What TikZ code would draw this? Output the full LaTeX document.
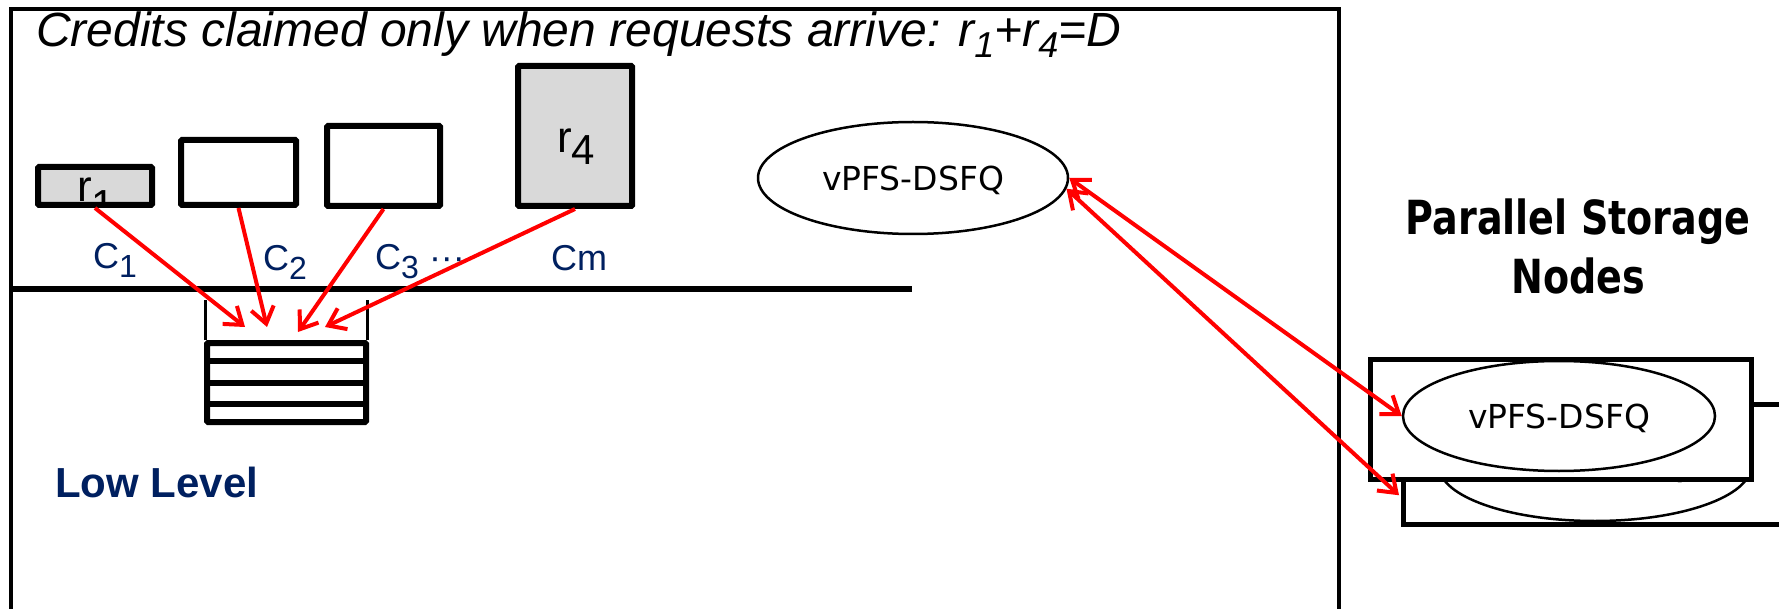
\documentclass[tikz,border=0pt]{standalone}
\usepackage{fontspec}
\setmainfont{Liberation Sans}
\newfontfamily\dvs{DejaVu Sans}
\newfontfamily\dvsb[FakeStretch=0.81]{DejaVu Sans}
\usetikzlibrary{arrows.meta,shapes.geometric,calc}
\definecolor{navy}{RGB}{0,32,96}
\definecolor{boxgray}{RGB}{217,217,217}
\newcommand\fsz[1]{\fontsize{#1}{#1}\selectfont}
\begin{document}
\begin{tikzpicture}[x=1pt,y=-1pt,
  reqbox/.style={draw=black, line width=6pt, rectangle, inner sep=0pt, rounded corners=1pt},
  txt/.style={inner sep=0pt, anchor=base west},
  clabel/.style={txt, text=navy, font=\fsz{36}},
  ell/.style={ellipse, draw=black, line width=2.5pt, fill=white, inner sep=0pt,
    minimum width=310pt, minimum height=112pt, font=\dvs\fsz{33}, text depth=0pt},
  sbox/.style={rectangle, draw=black, line width=5pt, fill=white, inner sep=0pt,
    minimum width=381pt, minimum height=120pt},
  redarr/.style={draw=red, line width=4pt, -{Straight Barb[length=16pt,width=23pt]}},
  redarr2/.style={draw=red, line width=4pt,
    {Straight Barb[length=16pt,width=23pt]}-{Straight Barb[length=16pt,width=23pt]}}
]
\clip (0,0) rectangle (1779,609);
\fill[white] (0,0) rectangle (1779,609);

% outer frame
\draw[line width=4pt] (11,640) -- (11,9) -- (1339,9) -- (1339,640);

% title
\node[txt, font=\itshape\fsz{48}] (title) at (36,47)
  {Credits claimed only when requests arrive: r\raisebox{-11pt}{\fsz{36}1}+r\raisebox{-11pt}{\fsz{36}4}=D};

% request boxes
\node[reqbox, fill=boxgray, minimum width=114pt, minimum height=38pt] (b1) at (95,186) {};
\node[reqbox, fill=white, minimum width=115pt, minimum height=65pt] (b2) at (238.5,172.5) {};
\node[reqbox, fill=white, minimum width=113pt, minimum height=80pt] (b3) at (383.5,166) {};
\node[reqbox, fill=boxgray, minimum width=114pt, minimum height=140pt] (b4) at (575,136) {};

\begin{scope}
  \clip ($(b1.south west)+(3,-3)$) rectangle ($(b1.north east)+(-3,3)$);
  \node[txt, font=\fsz{44}] (r1) at (77,202) {r\raisebox{-18pt}{\fsz{42}1}};
\end{scope}
\node[txt, font=\fsz{44}] (r4) at (557,153) {r\raisebox{-12pt}{\fsz{42}4}};

% client labels
\node[clabel] (c1) at (93,269) {C\raisebox{-9pt}{\fsz{32}1}};
\node[clabel] (c2) at (263,271) {C\raisebox{-9pt}{\fsz{32}2}};
\node[clabel] (c3) at (375,270) {C\raisebox{-9pt}{\fsz{32}3}\ ···};
\node[clabel] (cm) at (551,271) {Cm};

% divider
\coordinate (dl) at (13,289);
\coordinate (dr) at (912,289);
\draw[line width=6pt] (dl) -- (dr);

% queue
\node[rectangle, draw=black, line width=6pt, inner sep=0pt, rounded corners=1pt,
  minimum width=159pt, minimum height=79pt] (queue) at (286.5,382.5) {};
\foreach \f in {0.25,0.5,0.75}{
  \draw[line width=6pt] ($(queue.north west)!\f!(queue.south west)$) -- ($(queue.north east)!\f!(queue.south east)$);
}
\draw[line width=3pt] ([xshift=1.5pt]queue.north west) -- ++(0,-40);
\draw[line width=3pt] ([xshift=-2pt]queue.north east) -- ++(0,-40);

\coordinate (q1) at (245,327);
\coordinate (q2) at (267,327);
\coordinate (q3) at (298,332);
\coordinate (q4) at (325,327);
\draw[redarr] (b1.south) -- (q1);
\draw[redarr] (b2.south) -- (q2);
\draw[redarr] (b3.south) -- (q3);
\draw[redarr] (b4.south) -- (q4);

% low level
\node[txt, text=navy, font=\bfseries\fsz{42}] (low) at (55,497) {Low Level};

% top scheduler
\node[ell] (e0) at (913,178) {vPFS-DSFQ};

% storage nodes
\node[txt, anchor=base, font=\dvsb\bfseries\fsz{47}] (ps1) at (1578,235) {Parallel Storage};
\node[txt, anchor=base, font=\dvsb\bfseries\fsz{47}] (ps2) at (1578,294) {Nodes};

\node[sbox] (bk) at (1594,464) {};
\node[ell, minimum width=312pt, minimum height=110pt] (ebk) at (1595,466) {vPFS-DSFQ};
\node[sbox] (fr) at (1560.5,419) {};
\node[ell, minimum width=312pt, minimum height=110pt] (efr) at (1559,416) {vPFS-DSFQ};

\coordinate (bkw) at ($(bk.south west)!0.25!(bk.north west)$);
\draw[redarr2] (e0.east) -- (efr.west);
\draw[redarr2] (e0.356) -- ([xshift=-2pt]bkw);
\end{tikzpicture}
\end{document}
